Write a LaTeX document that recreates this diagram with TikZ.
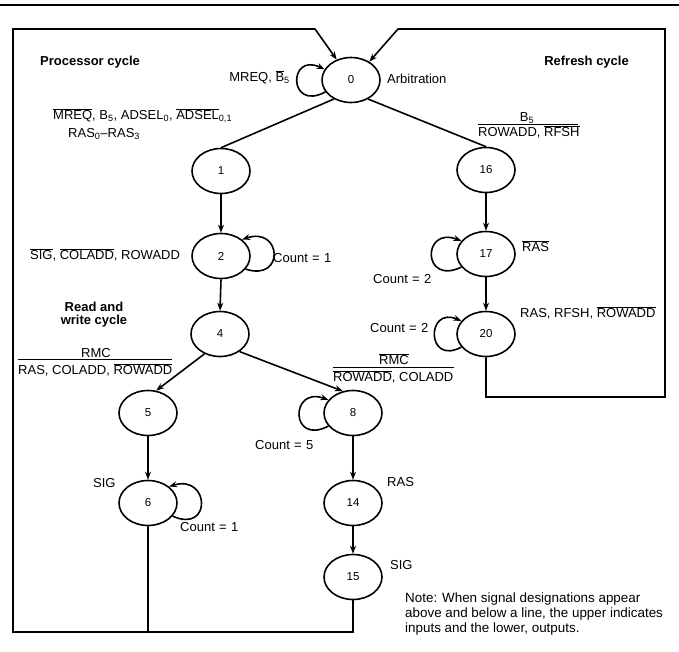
\documentclass[tikz,border=0pt]{standalone}
\usepackage{fontspec}
\setmainfont{Liberation Sans}
\usetikzlibrary{shapes.geometric,arrows.meta}
\newcommand{\ovl}[1]{$\overline{\hbox{#1}}$}
\begin{document}
\begin{tikzpicture}[x=1pt,y=-1pt,
  st/.style={ellipse,draw,line width=1.6pt,minimum width=58pt,minimum height=45pt,inner sep=0pt,font=\fontsize{11.5}{13}\selectfont},
  lbl/.style={inner sep=0pt,text height=9.3pt,text depth=0pt,font=\fontsize{13}{15}\selectfont},
  ttl/.style={inner sep=0pt,text height=9.3pt,text depth=0pt,font=\fontsize{13}{15}\selectfont\bfseries},
  note/.style={inner sep=0pt,text height=9.5pt,text depth=0pt,font=\fontsize{13.4}{15}\selectfont},
  ln/.style={line width=1.6pt},
  arr/.style={line width=1.6pt,-{Stealth[length=8pt,width=6pt]}},
  bar/.style={line width=0.7pt}]
\useasboundingbox (0,0) rectangle (679,651);
% top rule
\coordinate (rl) at (0,5);
\coordinate (rr) at (679,5);
\draw[line width=2pt] (rl) -- (rr);

% states
\node[st] (s0) at (351,80) {0};
\node[st] (s1) at (221,171) {1};
\node[st] (s2) at (221,256) {2};
\node[st] (s4) at (220,334) {4};
\node[st] (s5) at (148,413) {5};
\node[st] (s6) at (148,503) {6};
\node[st] (s8) at (353,413) {8};
\node[st] (s14) at (353,503) {14};
\node[st] (s15) at (353,577) {15};
\node[st] (s16) at (486,170) {16};
\node[st] (s17) at (486,254) {17};
\node[st] (s20) at (486,334) {20};

% frame corners
\coordinate (fTL) at (13,29);
\coordinate (fTLe) at (315,29);
\coordinate (fBL) at (13,632);
\coordinate (fB6) at (148,632);
\coordinate (fB15) at (353,632);
\coordinate (fTR) at (665,29);
\coordinate (fTRe) at (398,29);
\coordinate (fBR) at (665,397);
\coordinate (fB20) at (486,397);

\draw[arr] (s6.south) -- (fB6) -- (fBL) -- (fTL) -- (fTLe) -- (s0.125);
\draw[ln] (s15.south) -- (fB15) -- (fB6);
\draw[arr] (s20.south) -- (fB20) -- (fBR) -- (fTR) -- (fTRe) -- (s0.45);

% transitions
\draw[ln] (s0.228) -- (s1.north);
\draw[ln] (s0.312) -- (s16.north);
\draw[arr] (s1.south) -- (s2.north);
\draw[arr] (s2.south) -- (s4.north);
\draw[arr] (s4.232) -- (s5.70);
\draw[arr] (s4.-42) -- (s8.115);
\draw[arr] (s5.south) -- (s6.north);
\draw[arr] (s8.south) -- (s14.north);
\draw[arr] (s14.south) -- (s15.north);
\draw[arr] (s16.south) -- (s17.north);
\draw[arr] (s17.south) -- (s20.north);

% self loops
\draw[arr] (s0.205) .. controls (288,112) and (288,52) .. (s0.158);
\draw[arr] (s2.-28) .. controls (285,282) and (282,226) .. (s2.38);
\draw[arr] (s17.208) .. controls (422,286) and (422,226) .. (s17.152);
\draw[arr] (s20.208) .. controls (426,366) and (426,306) .. (s20.152);
\draw[arr] (s6.-28) .. controls (212,534) and (210,474) .. (s6.38);
\draw[arr] (s8.208) .. controls (290,446) and (290,386) .. (s8.152);

% titles
\node[ttl,anchor=west] (tP) at (40,61) {Processor cycle};
\node[ttl,anchor=east] (tR) at (629,61) {Refresh cycle};
\node[ttl] (tRW1) at (94,307) {Read and};
\node[ttl] (tRW2) at (94,320) {write cycle};

% labels
\node[lbl,anchor=east] (l0) at (290,77) {MREQ, \ovl{B}\textsubscript{5}};
\node[lbl,anchor=west] (lArb) at (387,79) {Arbitration};
\node[lbl,anchor=west] (l01a) at (53,115) {\ovl{MREQ}, B\textsubscript{5}, ADSEL\textsubscript{0}, \ovl{ADSEL}\textsubscript{0,1}};
\node[lbl,anchor=west] (l01b) at (68,133) {RAS\textsubscript{0}--RAS\textsubscript{3}};
\node[lbl,anchor=west] (l2) at (30,255) {\ovl{SIG}, \ovl{COLADD}, ROWADD};
\node[lbl,anchor=west] (c2) at (273,258) {Count\,\,=\,\,1};

% fraction labels
\node[lbl] (f45a) at (96,353) {RMC};
\coordinate (b45l) at (18,359);
\coordinate (b45r) at (172,359);
\draw[bar] (b45l) -- (b45r);
\node[lbl,anchor=west] (f45b) at (18,370) {RAS, COLADD, \ovl{ROWADD}};

\node[lbl] (f48a) at (394,360) {\ovl{RMC}};
\coordinate (b48l) at (333,367);
\coordinate (b48r) at (454,367);
\draw[bar] (b48l) -- (b48r);
\node[lbl,anchor=west] (f48b) at (333,377) {\ovl{ROWADD}, COLADD};

\node[lbl] (f16a) at (527,117) {B\textsubscript{5}};
\coordinate (b16l) at (478,124);
\coordinate (b16r) at (578,124);
\draw[bar] (b16l) -- (b16r);
\node[lbl,anchor=west] (f16b) at (478,132) {ROWADD, \ovl{RFSH}};

\node[lbl,anchor=west] (l17) at (522,247) {\ovl{RAS}};
\node[lbl,anchor=west] (c17) at (373,279) {Count\,\,=\,\,2};
\node[lbl,anchor=west] (l20) at (520,313) {RAS, RFSH, \ovl{ROWADD}};
\node[lbl,anchor=west] (c20) at (370,328) {Count\,\,=\,\,2};
\node[lbl,anchor=west] (c8) at (255,445) {Count\,\,=\,\,5};
\node[lbl,anchor=west] (l6) at (93,483) {SIG};
\node[lbl,anchor=west] (c6) at (180,527) {Count\,\,=\,\,1};
\node[lbl,anchor=west] (l14) at (387,482) {RAS};
\node[lbl,anchor=west] (l15) at (390,565) {SIG};

% note
\node[note,anchor=west] (n1) at (405,598) {Note: When signal designations appear};
\node[note,anchor=west] (n2) at (405,613) {above and below a line, the upper indicates};
\node[note,anchor=west] (n3) at (405,628) {inputs and the lower, outputs.};
\end{tikzpicture}
\end{document}
